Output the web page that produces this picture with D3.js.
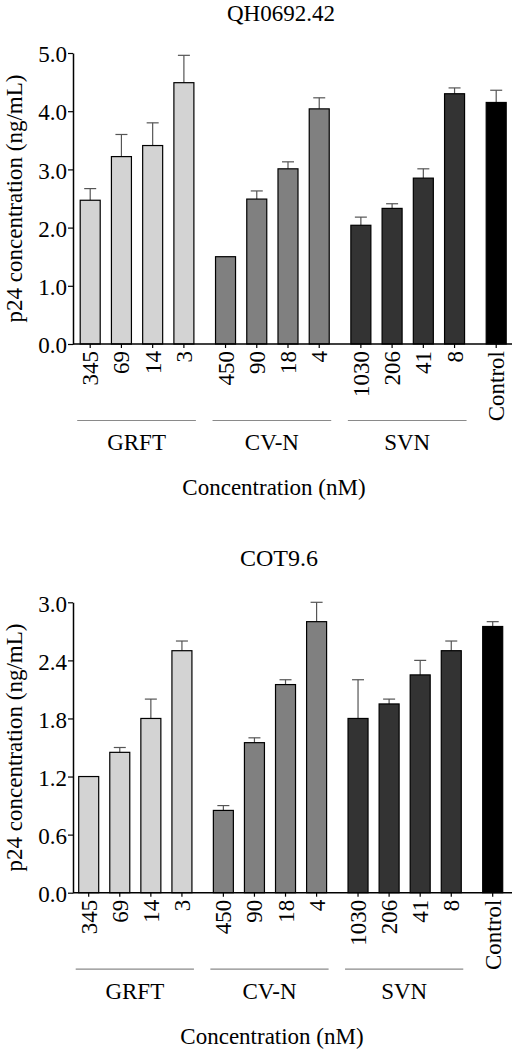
<!DOCTYPE html>
<html>
<head>
<meta charset="utf-8">
<script src="https://cdn.jsdelivr.net/npm/d3@7"></script>
<style>
  html, body { margin: 0; padding: 0; background: #fff; }
  svg { display: block; font-family: "Liberation Serif", "Times New Roman", serif; }
</style>
</head>
<body>
<svg id="chart" width="512" height="1050"></svg>
<script>
// ---- data ----
const categories = ["345","69","14","3","450","90","18","4","1030","206","41","8","Control"];
const groupOf    = ["GRFT","GRFT","GRFT","GRFT","CV-N","CV-N","CV-N","CV-N","SVN","SVN","SVN","SVN","Control"];
const groupNames = ["GRFT","CV-N","SVN","Control"];
const groupFill  = ["#d3d3d3","#808080","#333333","#000000"];

const qhMeans = [2.47, 3.22, 3.41, 4.49, 1.50, 2.49, 3.01, 4.04, 2.04, 2.33, 2.85, 4.30, 4.15];
const qhErr   = [0.20, 0.38, 0.39, 0.47, 0.00, 0.14, 0.12, 0.19, 0.14, 0.08, 0.16, 0.10, 0.21];
const qhTicks = [0, 1, 2, 3, 4, 5];

const cotMeans = [1.20, 1.45, 1.80, 2.50, 0.85, 1.55, 2.15, 2.80, 1.80, 1.95, 2.25, 2.50, 2.75];
const cotErr   = [0.00, 0.05, 0.20, 0.10, 0.05, 0.05, 0.05, 0.20, 0.40, 0.05, 0.15, 0.10, 0.05];
const cotTicks = [0, 0.6, 1.2, 1.8, 2.4, 3.0];

const svg = d3.select("#chart");
const FS = 23;

function panel(opt) {
  const g = svg.append("g");
  const gi = groupOf.map(d => groupNames.indexOf(d));
  const pos = categories.map((c, i) => i + gi[i] / 3);
  const x = d3.scaleLinear().domain([0, 13]).range([opt.c0, opt.c1]);
  const y = d3.scaleLinear().domain([0, opt.ymax]).range([opt.y0, opt.y1]);
  const bw = 20;

  // title
  g.append("text").attr("x", opt.titleX).attr("y", opt.titleY)
    .attr("text-anchor", "middle").attr("font-size", opt.titleFS).text(opt.title);

  // error bars
  const eg = g.append("g").attr("stroke", "#555").attr("stroke-width", 1.2);
  opt.means.forEach((m, i) => {
    if (opt.err[i] <= 0) return;
    const cx = x(pos[i]);
    eg.append("line").attr("x1", cx).attr("x2", cx).attr("y1", y(m)).attr("y2", y(m + opt.err[i]));
    eg.append("line").attr("x1", cx - 6).attr("x2", cx + 6).attr("y1", y(m + opt.err[i])).attr("y2", y(m + opt.err[i]));
  });

  // bars
  g.append("g").selectAll("rect").data(opt.means).join("rect")
    .attr("x", (d, i) => x(pos[i]) - bw / 2)
    .attr("y", d => y(d))
    .attr("width", bw)
    .attr("height", d => y(0) - y(d))
    .attr("fill", (d, i) => groupFill[gi[i]])
    .attr("stroke", "#000").attr("stroke-width", 1.2);

  // y axis
  const ya = g.append("g").attr("transform", `translate(${opt.axX},0)`)
    .call(d3.axisLeft(y).tickValues(opt.ticks).tickFormat(d3.format(".1f")).tickSize(5).tickSizeOuter(0));
  ya.select(".domain").attr("stroke-width", 1.5);
  ya.selectAll(".tick line").attr("stroke-width", 1.2);
  ya.selectAll(".tick text").attr("font-size", FS).attr("font-family", "Liberation Serif, serif")
    .attr("fill", "#000").attr("x", -6).attr("dy", "0.38em");

  // x axis line
  g.append("line").attr("x1", opt.axX).attr("x2", 512).attr("y1", y(0)).attr("y2", y(0))
    .attr("stroke", "#000").attr("stroke-width", 1.5);
  // x ticks
  g.append("g").selectAll("line").data(pos).join("line")
    .attr("x1", d => x(d)).attr("x2", d => x(d))
    .attr("y1", y(0)).attr("y2", y(0) + 4)
    .attr("stroke", "#000").attr("stroke-width", 1.2);
  // x tick labels (rotated)
  g.append("g").selectAll("text").data(categories).join("text")
    .attr("transform", (d, i) => `translate(${x(pos[i]) + 8},${y(0) + 7}) rotate(-90)`)
    .attr("text-anchor", "end").attr("font-size", FS).text(d => d);

  // group lines & labels
  groupNames.slice(0, 3).forEach((gn, k) => {
    const idx = gi.map((v, i) => v === k ? i : -1).filter(v => v >= 0);
    const xa = x(pos[idx[0]]) - 13, xb = x(pos[idx[idx.length - 1]]) + 12;
    g.append("line").attr("x1", xa).attr("x2", xb)
      .attr("y1", y(0) + 76.5).attr("y2", y(0) + 76.5)
      .attr("stroke", "#8a8a8a").attr("stroke-width", 1.2);
    g.append("text").attr("x", (xa + xb) / 2).attr("y", y(0) + 106)
      .attr("text-anchor", "middle").attr("font-size", FS).text(gn);
  });

  // axis titles
  g.append("text").attr("x", opt.xTitleX).attr("y", y(0) + 151)
    .attr("text-anchor", "middle").attr("font-size", FS).text("Concentration (nM)");
  g.append("text")
    .attr("transform", `translate(22,${(opt.y0 + opt.y1) / 2}) rotate(-90)`)
    .attr("text-anchor", "middle").attr("font-size", FS).text("p24 concentration (ng/mL)");
}

panel({ title: "QH0692.42", titleX: 281, titleY: 21, titleFS: 23, means: qhMeans, err: qhErr, ticks: qhTicks,
        ymax: 5, y0: 344, y1: 53, c0: 90.2, c1: 496.2, axX: 73, xTitleX: 274 });
panel({ title: "COT9.6", titleX: 279, titleY: 566, titleFS: 24, means: cotMeans, err: cotErr, ticks: cotTicks,
        ymax: 3, y0: 892.7, y1: 602.3, c0: 88.7, c1: 492.7, axX: 73, xTitleX: 272 });
</script>
</body>
</html>
